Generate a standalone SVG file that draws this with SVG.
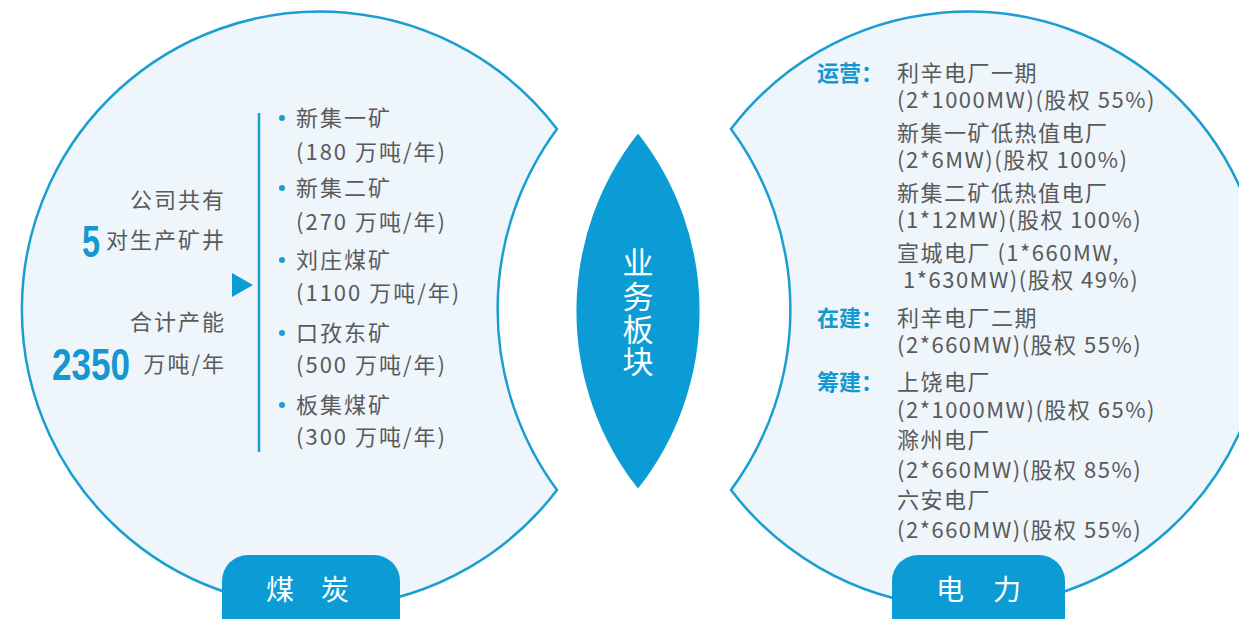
<svg xmlns="http://www.w3.org/2000/svg" width="1239" height="619" viewBox="0 0 1239 619">
<style>
.shape{fill:#eef5fb;stroke:#1a9ed2;stroke-width:2.5;stroke-linejoin:round}
.blue{fill:#0b9cd6}
.t{font-family:"Noto Sans CJK SC","Liberation Sans",sans-serif;font-size:22px;fill:#5a5a5a}
.ls{letter-spacing:2px}
.rs{letter-spacing:1.5px}
.lab{font-family:"Noto Sans CJK SC","Liberation Sans",sans-serif;font-size:22px;font-weight:bold;fill:#1597cf}
.num{font-family:"Liberation Sans",sans-serif;font-weight:bold;font-size:44px;fill:#1597cf}
.w{font-family:"Noto Sans CJK SC",sans-serif;fill:#ffffff}
.dot{fill:#1a9ed2}
</style>
<rect width="1239" height="619" fill="#ffffff"/>

<g id="node-coal">
  <path class="shape" d="M557,129 A298,298 0 1,0 557,490 A304,304 0 0,1 557,129 Z"/>
  <text class="t ls" x="226" y="208" text-anchor="end">公司共有</text>
  <text class="num" x="82" y="257" textLength="18" lengthAdjust="spacingAndGlyphs">5</text>
  <text class="t ls" x="226" y="248" text-anchor="end">对生产矿井</text>
  <text class="t ls" x="226" y="330" text-anchor="end">合计产能</text>
  <text class="num" x="52" y="380" textLength="78" lengthAdjust="spacingAndGlyphs">2350</text>
  <text class="t ls" x="226" y="372" text-anchor="end">万吨/年</text>
  <circle class="dot" cx="282" cy="118" r="3"/>
  <circle class="dot" cx="282" cy="188" r="3"/>
  <circle class="dot" cx="282" cy="260" r="3"/>
  <circle class="dot" cx="282" cy="333" r="3"/>
  <circle class="dot" cx="282" cy="405" r="3"/>
  <text class="t ls" x="296" y="126">新集一矿</text>
  <text class="t ls" x="296" y="160">(180 万吨/年)</text>
  <text class="t ls" x="296" y="196">新集二矿</text>
  <text class="t ls" x="296" y="230">(270 万吨/年)</text>
  <text class="t ls" x="296" y="268">刘庄煤矿</text>
  <text class="t ls" x="296" y="301">(1100 万吨/年)</text>
  <text class="t ls" x="296" y="341">口孜东矿</text>
  <text class="t ls" x="296" y="373">(500 万吨/年)</text>
  <text class="t ls" x="296" y="413">板集煤矿</text>
  <text class="t ls" x="296" y="445">(300 万吨/年)</text>
  <rect class="blue" x="222" y="555" width="178" height="90" rx="26"/>
  <text class="w" font-size="28" x="266 298 321" y="600">煤 炭</text>
</g>

<g id="connectors">
  <line x1="259" y1="113" x2="259" y2="452" stroke="#1a9ed2" stroke-width="2.5"/>
  <polygon class="blue" points="232,273 253,285 232,297"/>
</g>

<g id="node-center">
  <path class="blue" d="M638,135 A286,286 0 0,1 638,487 A286,286 0 0,1 638,135 Z" stroke="#0b9cd6" stroke-width="2" stroke-linejoin="round"/>
  <text class="w" font-size="31" text-anchor="middle" x="638 638 638 638" y="274 308 341 373">业务板块</text>
</g>

<g id="node-power">
  <path class="shape" d="M731,129 A298,298 0 1,1 731,490 A304,304 0 0,0 731,129 Z"/>
  <text class="lab" x="817" y="81">运营：</text>
  <text class="lab" x="817" y="326">在建：</text>
  <text class="lab" x="817" y="390">筹建：</text>
  <text class="t rs" x="897" y="81">利辛电厂一期</text>
  <text class="t rs" x="897" y="108">(2*1000MW)(股权 55%)</text>
  <text class="t rs" x="897" y="141">新集一矿低热值电厂</text>
  <text class="t rs" x="897" y="168">(2*6MW)(股权 100%)</text>
  <text class="t rs" x="897" y="201">新集二矿低热值电厂</text>
  <text class="t rs" x="897" y="228">(1*12MW)(股权 100%)</text>
  <text class="t rs" x="897" y="261">宣城电厂 (1*660MW,</text>
  <text class="t rs" x="903" y="288">1*630MW)(股权 49%)</text>
  <text class="t rs" x="897" y="326">利辛电厂二期</text>
  <text class="t rs" x="897" y="353">(2*660MW)(股权 55%)</text>
  <text class="t rs" x="897" y="390">上饶电厂</text>
  <text class="t rs" x="897" y="418">(2*1000MW)(股权 65%)</text>
  <text class="t rs" x="897" y="448">滁州电厂</text>
  <text class="t rs" x="897" y="478">(2*660MW)(股权 85%)</text>
  <text class="t rs" x="897" y="508">六安电厂</text>
  <text class="t rs" x="897" y="538">(2*660MW)(股权 55%)</text>
  <rect class="blue" x="892" y="555" width="173" height="90" rx="26"/>
  <text class="w" font-size="28" x="936 968 993" y="600">电 力</text>
</g>
</svg>
